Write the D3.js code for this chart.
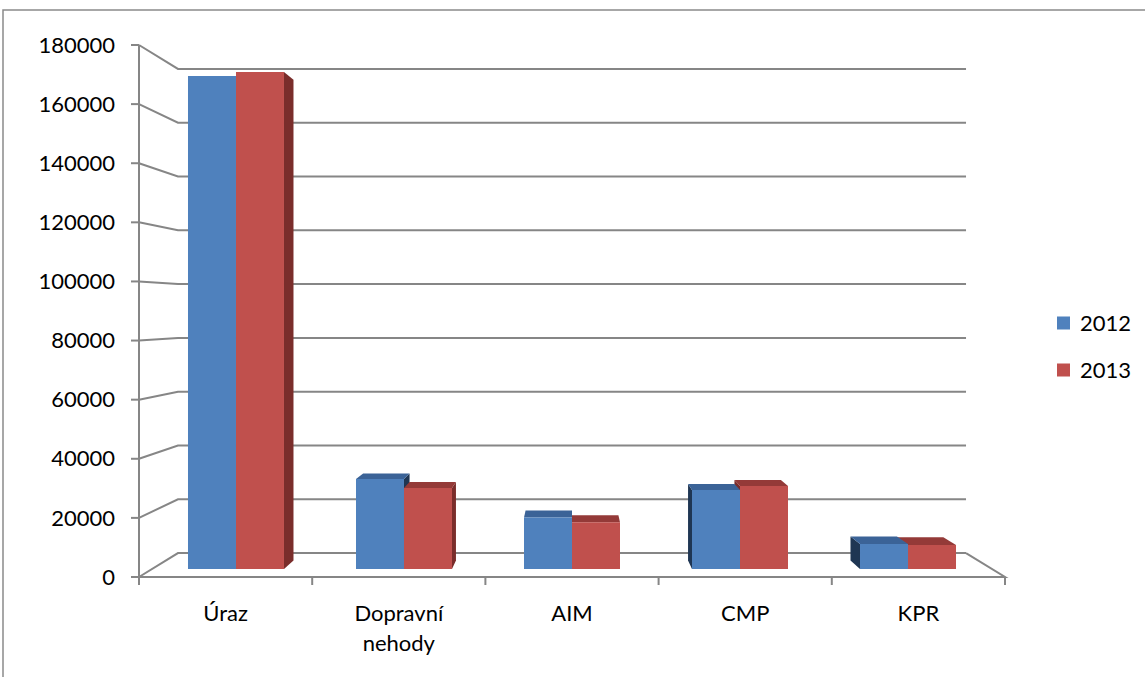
<!DOCTYPE html>
<html>
<head>
<meta charset="utf-8">
<script src="https://cdn.jsdelivr.net/npm/d3@7"></script>
<style>
  html, body { margin: 0; padding: 0; background: #fff; }
  svg { display: block; font-family: Lato, "Open Sans", sans-serif; }
</style>
</head>
<body>
<svg id="chart" width="1145" height="677"></svg>
<script>
// Data
const categories = ["Úraz", "Dopravní nehody", "AIM", "CMP", "KPR"];
const seriesNames = ["2012", "2013"];
const values2012 = [172000, 31400, 18000, 27600, 8700];
const values2013 = [173400, 28300, 16300, 29000, 8400];
const valueTicks = [0, 20000, 40000, 60000, 80000, 100000, 120000, 140000, 160000, 180000];

const seriesValues = { "2012": values2012, "2013": values2013 };
const palette = {
  "2012": { front: "#4F81BD", top: "#3B6397", side: "#1F3653" },
  "2013": { front: "#C0504D", top: "#943A38", side: "#7A2D2B" }
};

const svg = d3.select("#chart");
const gridColor = "#868686";
const fontSize = 22;

// Perspective: points on the front plane shrink toward a vanishing point with depth
const vp = { x: 572, y: 311 };
const F_BACK = 0.91, F_BAR_FRONT = 0.97, F_BAR_BACK = 0.938;
const proj = (X, Y, f) => [vp.x + (X - vp.x) * f, vp.y + (Y - vp.y) * f];

const x = d3.scaleBand().domain(categories).range([139, 1005])
  .paddingInner(0.4286).paddingOuter(0.2143);
const xs = d3.scaleBand().domain(seriesNames).range([0, x.bandwidth()]);
const y = d3.scaleLinear().domain([0, 180000]).range([577, 45]);

// Chart frame
svg.append("path").attr("d", "M3,677 V10 H1145")
  .attr("fill", "none").attr("stroke", "#8a8a8a").attr("stroke-width", 1.5);

const walls = svg.append("g").attr("stroke", gridColor).attr("stroke-width", 2).attr("fill", "none");
const X0 = x.range()[0], X1 = x.range()[1];

valueTicks.forEach(t => {
  const a = proj(X0, y(t), F_BACK), b = proj(X1, y(t), F_BACK);
  // left wall gridline + back wall gridline
  walls.append("path").attr("d", `M${X0},${y(t)} L${a[0]},${a[1]} L${b[0]},${b[1]}`);
  // tick mark
  walls.append("line").attr("x1", X0 - 8).attr("x2", X0).attr("y1", y(t)).attr("y2", y(t));
});

// value axis line
walls.append("line").attr("x1", X0).attr("x2", X0).attr("y1", y(180000)).attr("y2", y(0));
// floor front edge and right edge
const fr = proj(X1, y(0), F_BACK);
walls.append("path").attr("d", `M${X0},${y(0)} L${X1},${y(0)} L${fr[0]},${fr[1]}`);
// category ticks
d3.range(categories.length + 1).forEach(i => {
  const tx = X0 + i * x.step();
  walls.append("line").attr("x1", tx).attr("x2", tx).attr("y1", y(0)).attr("y2", y(0) + 8);
});

// Value labels
svg.append("g").selectAll("text").data(valueTicks).join("text")
  .attr("x", 115).attr("y", d => y(d)).attr("dy", "0.35em")
  .attr("text-anchor", "end").attr("font-size", fontSize).attr("fill", "#000")
  .text(d => d);

// Category labels
const catG = svg.append("g").attr("font-size", fontSize).attr("fill", "#000").attr("text-anchor", "middle");
categories.forEach(c => {
  const words = c.split(" ");
  const t = catG.append("text").attr("x", x(c) + x.bandwidth() / 2).attr("y", 621);
  words.forEach((w, i) => t.append("tspan").attr("x", x(c) + x.bandwidth() / 2).attr("dy", i ? 30 : 0).text(w));
});

// Bars
const bars = [];
categories.forEach((c, i) => {
  seriesNames.forEach(s => {
    const bx0 = x(c) + xs(s), bx1 = bx0 + xs.bandwidth();
    bars.push({ s, bx0, bx1, v: seriesValues[s][i] });
  });
});
// farther from the vanishing point first, so nearer faces overlap them
bars.sort((a, b) => Math.abs((b.bx0 + b.bx1) / 2 - vp.x) - Math.abs((a.bx0 + a.bx1) / 2 - vp.x));

const barG = svg.append("g");
const poly = pts => "M" + pts.map(p => p.join(",")).join("L") + "Z";
bars.forEach(b => {
  const yt = y(b.v), yb = y(0);
  const FTL = proj(b.bx0, yt, F_BAR_FRONT), FTR = proj(b.bx1, yt, F_BAR_FRONT);
  const FBL = proj(b.bx0, yb, F_BAR_FRONT), FBR = proj(b.bx1, yb, F_BAR_FRONT);
  const BTL = proj(b.bx0, yt, F_BAR_BACK), BTR = proj(b.bx1, yt, F_BAR_BACK);
  const BBL = proj(b.bx0, yb, F_BAR_BACK), BBR = proj(b.bx1, yb, F_BAR_BACK);
  const col = palette[b.s];
  if (b.bx1 < vp.x) barG.append("path").attr("d", poly([FTR, BTR, BBR, FBR])).attr("fill", col.side);
  if (b.bx0 > vp.x) barG.append("path").attr("d", poly([FTL, BTL, BBL, FBL])).attr("fill", col.side);
  if (yt > vp.y) barG.append("path").attr("d", poly([FTL, FTR, BTR, BTL])).attr("fill", col.top);
  barG.append("path").attr("d", poly([FTL, FTR, FBR, FBL])).attr("fill", col.front);
});

// Legend
const leg = svg.append("g").attr("font-size", fontSize);
seriesNames.forEach((s, i) => {
  const ly = 323 + i * 47;
  leg.append("rect").attr("x", 1057).attr("y", ly - 6.5).attr("width", 13).attr("height", 13).attr("fill", palette[s].front);
  leg.append("text").attr("x", 1080).attr("y", ly).attr("dy", "0.35em").attr("fill", "#000").text(s);
});
</script>
</body>
</html>
